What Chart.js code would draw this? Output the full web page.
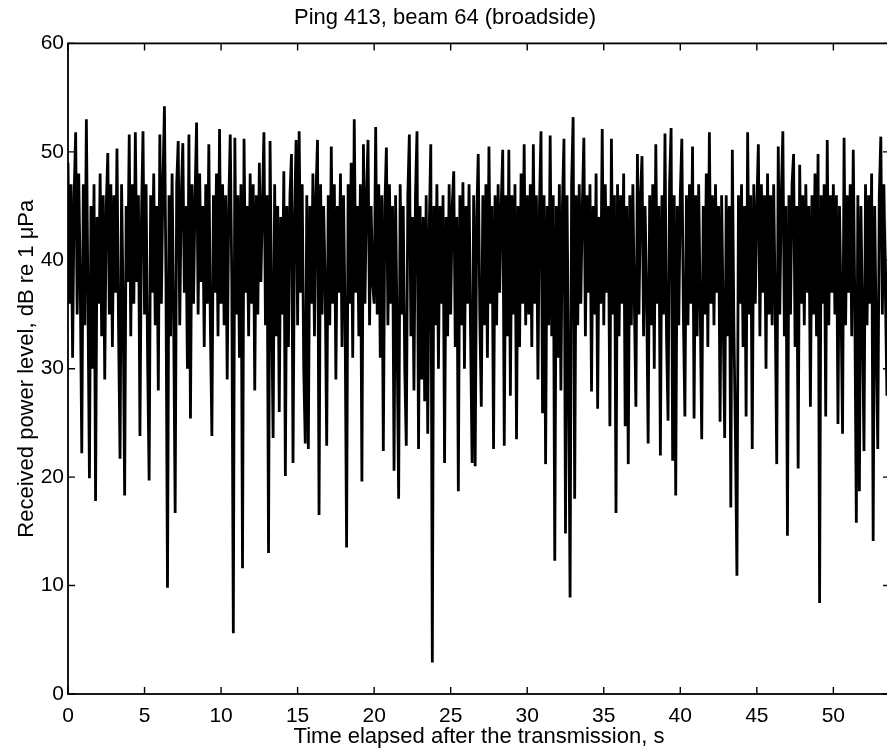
<!DOCTYPE html>
<html><head><meta charset="utf-8">
<script src="https://cdn.jsdelivr.net/npm/chart.js@4.4.1/dist/chart.umd.min.js"></script>
<style>
html,body{margin:0;padding:0;background:#fff;overflow:hidden;}
#wrap{position:relative;width:890px;height:753px;}
</style></head><body>
<div id="wrap"><canvas id="c"></canvas></div>
<script>
const chartTitle = 'Ping 413, beam 64 (broadside)';
const xAxisLabel = 'Time elapsed after the transmission, s';
const yAxisLabel = 'Received power level, dB re 1 \u03BCPa';
const sampleInterval = 0.1; // seconds between samples
const xTicks = [0, 5, 10, 15, 20, 25, 30, 35, 40, 45, 50];
const yTicks = [0, 10, 20, 30, 40, 50, 60];

// Received level (dB re 1 uPa), 0.0 s to 9.9 s
const level_00_10 = [49,36,47,31,46,51.8,35,48,38,22.2,
 47,34,53.0,37,19.9,45,30,47,17.8,44,
 36,48,33,46,29,45,49.9,35,47,32,
 46,37,50.3,34,21.7,47,36,18.3,45,38,
 51.6,33,47,36,51.8,38,46,23.8,44,51.9,
 35,47,31,19.7,46,37,48,34,45,28,
 51.6,36,47,54.2,38,9.8,46,33,48,35,
 16.7,47,51.0,34,46,50.8,37,45,30,51.6,
 25.4,47,36,46,52.7,35,48,38,45,32,
 47,36,50.7,34,23.8,46,37,48,33,52.1];
// 10.0 s to 19.9 s
const level_10_20 = [36,47,34,46,29,45,51.6,38,5.6,51.3,
 35,46,31,47,11.6,51.2,37,45,33,48,
 36,47,28,46,35,49,38,45,51.8,34,
 46,13.0,51.0,36,23.6,47,33,45,26,44,
 35,48.2,20.1,45,32,46,49.8,21.3,44,51.1,
 34,51.9,37,47,30,23.1,46,22.6,45,36,
 48,33,46,51.1,16.5,47,35,45,38,22.9,
 46,34,50.5,36,47,29,45,37,48,32,
 46,35,13.5,47,36,49,31,53.0,37,45,
 33,47,19.6,50.7,36,46,51.1,34,45,38];
// 20.0 s to 29.9 s
const level_20_30 = [36,52.3,35,47,31,46,22.4,45,50.4,34,
 47,36,45,20.6,46,33,18.0,47,35,45,
 30,22.9,46,51.6,33,44,28,46,51.9,22.6,
 45,29,44,27,46,24.0,43,50.7,2.9,45,
 34,47,30,45,36,46,21.3,44,33,47,
 35,45,48.2,32,44,18.7,46,34,47.2,30,
 45,36,47,33,21.3,46,21.0,44,49.8,35,
 26.5,46,34,47,31,50.5,36,45,22.6,46,
 34,47,37,45,50.2,22.9,46,33,50.2,27.5,
 46,35,47,23.5,45,32,48,36,50.7,34];
// 30.0 s to 39.9 s
const level_30_40 = [46,35,47,32,50.7,36,46,29,45,51.9,
 25.9,46,21.2,45,34,51.5,33,46,12.3,45,
 31,47,28,45,51.2,14.8,46,30,8.9,47,
 53.2,18.0,46,34,47,36,45,51.3,33,46,
 37,47,27.9,45,35,48,26.3,44,36,52.1,
 34,47,37,45,24.7,51.2,35,46,16.7,47,
 33,46,36,48,24.7,45,21.2,46,34,47,
 36,26.5,49.8,35,46,49.6,33,45,37,23.1,
 46,34,47,30,50.7,36,45,22.0,46,35,
 51.7,33,25.2,47,52.2,21.5,46,18.3,45,34];
// 40.0 s to 49.9 s
const level_40_50 = [46,51.2,35,25.6,46,34,47,36,50.5,25.4,
 46,33,47,36,23.5,45,35,48,32,51.8,
 36,46,34,47,37,45,25.1,46,35,23.6,
 46,33,45,17.2,50.2,34,24.0,10.9,46,36,
 47,32,45,25.6,51.8,35,46,22.6,47,36,
 45,50.7,33,47,37,46,30,48,35,46,
 34,47,36,21.2,50.5,35,46,51.9,33,45,
 14.6,46,35,47,49.8,32,45,20.8,48.8,36,
 46,34,47,37,45,26.5,46,35,48,33,
 49.8,8.4,46,36,47,25.6,51.1,34,46,37];
// 50.0 s to 53.7 s
const level_50_54 = [47,35,46,24.9,45,36,24.0,51.3,34,46,
 37,47,33,50.2,36,15.8,46,18.7,45,35,
 22.4,47,34,46,36,48,14.1,45,33,22.6,
 46,51.4,35,47,37,27.5,45,34];

const receivedLevel = [].concat(level_00_10, level_10_20, level_20_30, level_30_40, level_40_50, level_50_54);
const points = receivedLevel.map((v, i) => ({ x: Math.round(i * sampleInterval * 100) / 100, y: v }));

const FONT = '"Liberation Sans", Arial, Helvetica, sans-serif';

const framePlugin = {
  id: 'frame',
  afterDatasetsDraw(chart) {
    const { ctx, chartArea: a, scales: { x, y } } = chart;
    ctx.save();
    ctx.strokeStyle = '#000';
    ctx.lineWidth = 1.8;
    ctx.strokeRect(a.left, a.top, a.right - a.left, a.bottom - a.top);
    ctx.lineWidth = 1.4;
    const L = 7;
    ctx.beginPath();
    xTicks.forEach(v => {
      const px = x.getPixelForValue(v);
      ctx.moveTo(px, a.bottom); ctx.lineTo(px, a.bottom - L);
      ctx.moveTo(px, a.top); ctx.lineTo(px, a.top + L);
    });
    yTicks.forEach(v => {
      const py = y.getPixelForValue(v);
      ctx.moveTo(a.left, py); ctx.lineTo(a.left + L, py);
      ctx.moveTo(a.right, py); ctx.lineTo(a.right - L, py);
    });
    ctx.stroke();
    ctx.restore();
  }
};

new Chart(document.getElementById('c'), {
  type: 'line',
  data: {
    datasets: [{
      data: points,
      borderColor: '#000',
      borderWidth: 2.8,
      borderJoinStyle: 'miter',
      pointRadius: 0,
      tension: 0,
      fill: false
    }]
  },
  options: {
    responsive: true,
    maintainAspectRatio: false,
    animation: false,
    layout: { padding: 0 },
    plugins: {
      legend: { display: false },
      tooltip: { enabled: false },
      title: {
        display: true, text: chartTitle, color: '#000',
        font: { family: FONT, size: 22, weight: 'normal' },
        padding: { top: 5, bottom: 12 }
      }
    },
    scales: {
      x: {
        type: 'linear', min: 0, max: 53.7,
        grid: { display: false, drawTicks: false },
        border: { display: false },
        afterBuildTicks: s => { s.ticks = xTicks.map(v => ({ value: v })); },
        afterFit: s => { s.height = 59; },
        ticks: { color: '#000', font: { family: FONT, size: 21 }, padding: 10, maxRotation: 0, autoSkip: false },
        title: { display: true, text: xAxisLabel, color: '#000', font: { family: FONT, size: 22 }, padding: { top: 0, bottom: 3 } }
      },
      y: {
        min: 0, max: 60,
        grid: { display: false, drawTicks: false },
        border: { display: false },
        afterBuildTicks: s => { s.ticks = yTicks.map(v => ({ value: v })); },
        afterFit: s => { s.width = 68; },
        ticks: { color: '#000', font: { family: FONT, size: 21 }, padding: 4 },
        title: { display: true, text: yAxisLabel, color: '#000', font: { family: FONT, size: 22 }, padding: { top: 14, bottom: 0 } }
      }
    }
  },
  plugins: [framePlugin]
});
</script>
</body></html>
